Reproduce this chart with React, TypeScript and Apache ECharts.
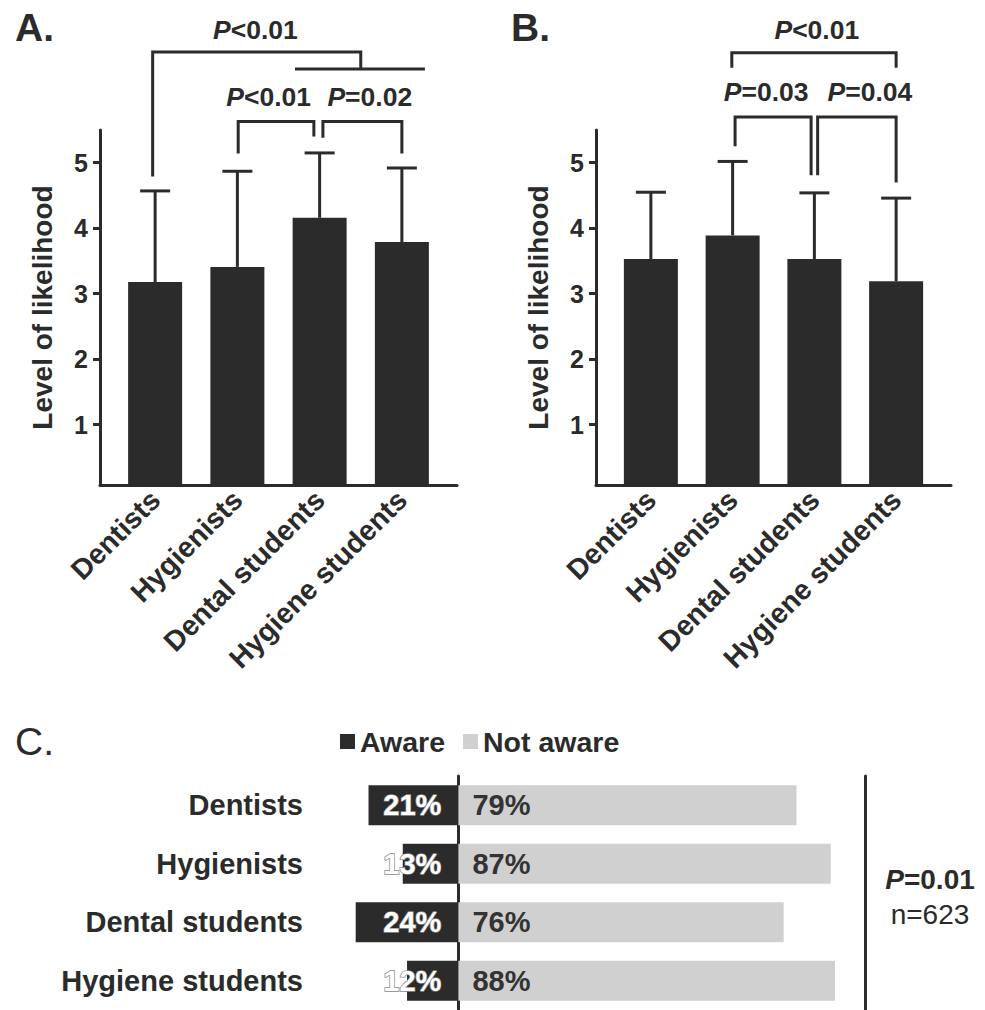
import React, { useEffect, useRef } from 'react';
import * as echarts from 'echarts';

const groups = ['Dentists', 'Hygienists', 'Dental students', 'Hygiene students'];
const meanA = [3.18, 3.41, 4.16, 3.79];
const sdA = [1.39, 1.46, 0.99, 1.13];
const meanB = [3.53, 3.89, 3.53, 3.19];
const sdB = [1.02, 1.13, 1.01, 1.27];
const yTicks = [1, 2, 3, 4, 5];
const aware = [21, 13, 24, 12];
const notAware = [79, 87, 76, 88];
const legendNames = ['Aware', 'Not aware'];

// significance brackets: [xFrom, xTo, yTop, yLeftEnd, yRightEnd] (category index, likelihood units)
const bracketsA = [
  [-0.03, 2.5, 6.69, 4.79, 6.43],
  [1.01, 1.93, 5.63, 5.14, 5.4],
  [2.04, 3.0, 5.63, 5.38, 5.14],
];
const crossbarsA = [[1.7, 3.28, 6.43]];
const pLabelsA: [number, number, string, string][] = [
  [1.22, 7.03, 'P', '<0.01'],
  [1.38, 6.0, 'P', '<0.01'],
  [2.61, 6.0, 'P', '=0.02'],
];
const bracketsB = [
  [0.99, 3.0, 6.68, 6.45, 6.45],
  [1.03, 1.96, 5.7, 5.25, 4.81],
  [2.04, 3.0, 5.7, 4.81, 4.7],
];
const crossbarsB: number[][] = [];
const pLabelsB: [number, number, string, string][] = [
  [2.03, 7.03, 'P', '<0.01'],
  [1.41, 6.08, 'P', '=0.03'],
  [2.68, 6.08, 'P', '=0.04'],
];

const FONT = '"Liberation Sans", Arial, Helvetica, sans-serif';
const DARK = '#2b2b2b';
const LIGHT = '#d0d0d0';
const LW = 3;

function xAt(api: any, f: number) {
  const a = api.coord([0, 1])[0];
  const b = api.coord([1, 1])[0];
  return a + f * (b - a);
}
function yAt(api: any, v: number) {
  return api.coord([0, v])[1];
}

function panelSeries(xi: number, mean: number[], sd: number[], brackets: number[][], crossbars: number[][], labels: [number, number, string, string][]) {
  const lineStyle = { stroke: DARK, lineWidth: LW, fill: null };
  return [
    {
      type: 'bar',
      name: 'mean' + xi,
      xAxisIndex: xi,
      yAxisIndex: xi,
      data: mean,
      barWidth: 54,
      itemStyle: { color: DARK },
      silent: true,
    },
    {
      type: 'custom',
      name: 'sd' + xi,
      xAxisIndex: xi,
      yAxisIndex: xi,
      z: 3,
      clip: false,
      data: mean.map((m, i) => [i, m, m + sd[i]]),
      renderItem: (params: any, api: any) => {
        const base = api.coord([api.value(0), api.value(1)]);
        const top = api.coord([api.value(0), api.value(2)]);
        return {
          type: 'group',
          children: [
            { type: 'line', shape: { x1: base[0], y1: base[1], x2: top[0], y2: top[1] }, style: { stroke: DARK, lineWidth: LW } },
            { type: 'line', shape: { x1: top[0] - 15, y1: top[1], x2: top[0] + 15, y2: top[1] }, style: { stroke: DARK, lineWidth: LW } },
          ],
        };
      },
    },
    {
      type: 'custom',
      name: 'br' + xi,
      xAxisIndex: xi,
      yAxisIndex: xi,
      z: 3,
      clip: false,
      silent: true,
      data: brackets.map((_, i) => [0, 1, i]),
      renderItem: (params: any, api: any) => {
        const b = brackets[params.dataIndex];
        const x1 = xAt(api, b[0]);
        const x2 = xAt(api, b[1]);
        const yt = yAt(api, b[2]);
        const children: any[] = [
          { type: 'polyline', shape: { points: [[x1, yAt(api, b[3])], [x1, yt], [x2, yt], [x2, yAt(api, b[4])]] }, style: lineStyle },
        ];
        if (params.dataIndex === 0) {
          crossbars.forEach((c) => {
            children.push({ type: 'line', shape: { x1: xAt(api, c[0]), y1: yAt(api, c[2]), x2: xAt(api, c[1]), y2: yAt(api, c[2]) }, style: { stroke: DARK, lineWidth: LW } });
          });
        }
        return { type: 'group', children };
      },
    },
    {
      type: 'custom',
      name: 'pl' + xi,
      xAxisIndex: xi,
      yAxisIndex: xi,
      z: 4,
      clip: false,
      silent: true,
      data: labels.map((_, i) => [0, 1, i]),
      renderItem: (params: any, api: any) => {
        const l = labels[params.dataIndex];
        return {
          type: 'text',
          x: xAt(api, l[0]),
          y: yAt(api, l[1]),
          style: {
            text: '{i|' + l[2] + '}{n|' + l[3] + '}',
            align: 'center',
            verticalAlign: 'middle',
            textAlign: 'center',
            textVerticalAlign: 'middle',
            fill: DARK,
            rich: {
              i: { fontFamily: FONT, fontSize: 26.5, fontWeight: 'bold', fontStyle: 'italic', fill: DARK, color: DARK },
              n: { fontFamily: FONT, fontSize: 26.5, fontWeight: 'bold', fill: DARK, color: DARK },
            },
          },
        };
      },
    },
  ];
}

function axesFor(gridAxes: number, gridBars: number) {
  const x = [
    {
      gridIndex: gridAxes,
      type: 'value',
      min: 0,
      max: 1,
      axisLine: { show: true, onZero: false, lineStyle: { color: DARK, width: LW } },
      axisTick: { show: false },
      axisLabel: { show: false },
      splitLine: { show: false },
    },
    {
      gridIndex: gridBars,
      type: 'category',
      data: groups,
      axisLine: { show: false },
      axisTick: { show: false },
      axisLabel: {
        interval: 0,
        rotate: 45,
        margin: 10,
        color: DARK,
        fontFamily: FONT,
        fontSize: 28.5,
        fontWeight: 'bold',
      },
    },
  ];
  const y = [
    {
      gridIndex: gridAxes,
      type: 'value',
      min: 0.08,
      max: 5.5,
      name: 'Level of likelihood',
      nameLocation: 'middle',
      nameGap: 44,
      nameTextStyle: { color: DARK, fontFamily: FONT, fontSize: 28, fontWeight: 'bold' },
      axisLine: { show: true, onZero: false, lineStyle: { color: DARK, width: LW } },
      axisTick: { show: true, length: 7, customValues: yTicks, lineStyle: { color: DARK, width: LW } },
      axisLabel: {
        customValues: yTicks,
        margin: 12,
        color: DARK,
        fontFamily: FONT,
        fontSize: 25,
        fontWeight: 'bold',
        formatter: (v: number) => (Number.isInteger(v) && v > 0 ? String(v) : ''),
      },
      splitLine: { show: false },
    },
    {
      gridIndex: gridBars,
      type: 'value',
      min: 0.08,
      max: 5.5,
      show: false,
      splitLine: { show: false },
    },
  ];
  return { x, y };
}

export default function App() {
  const ref = useRef<HTMLDivElement>(null);
  useEffect(() => {
    if (!ref.current) return;
    const chart = echarts.init(ref.current, undefined, { renderer: 'svg' });
    const a = axesFor(0, 1);
    const b = axesFor(2, 3);
    const option: any = {
      animation: false,
      backgroundColor: '#ffffff',
      textStyle: { fontFamily: FONT },
      grid: [
        { left: 100, top: 130, width: 357, height: 355 },
        { left: 114, top: 130, width: 329, height: 355 },
        { left: 596, top: 130, width: 355, height: 355 },
        { left: 610, top: 130, width: 327, height: 355 },
        { left: 330, top: 776, width: 535, height: 236 },
      ],
      xAxis: [
        ...a.x,
        ...b.x,
        { gridIndex: 4, type: 'value', min: -30, max: 95, show: false, splitLine: { show: false } },
      ],
      yAxis: [
        ...a.y,
        ...b.y,
        {
          gridIndex: 4,
          type: 'category',
          data: groups,
          inverse: true,
          axisLine: { show: true, lineStyle: { color: DARK, width: LW } },
          axisTick: { show: false },
          axisLabel: { margin: 27, color: DARK, fontFamily: FONT, fontSize: 29, fontWeight: 'bold' },
        },
        {
          gridIndex: 4,
          type: 'category',
          data: groups,
          inverse: true,
          position: 'right',
          axisLine: { show: true, lineStyle: { color: DARK, width: LW } },
          axisTick: { show: false },
          axisLabel: { show: false },
        },
      ],
      legend: {
        data: legendNames,
        left: 335,
        top: 722,
        icon: 'rect',
        itemWidth: 15,
        itemHeight: 15,
        itemGap: 18,
        textStyle: { color: DARK, fontFamily: FONT, fontSize: 28.5, fontWeight: 'bold' },
      },
      series: [
        ...panelSeries(1, meanA, sdA, bracketsA, crossbarsA, pLabelsA),
        ...panelSeries(3, meanB, sdB, bracketsB, crossbarsB, pLabelsB),
        {
          type: 'bar',
          name: legendNames[0],
          xAxisIndex: 4,
          yAxisIndex: 4,
          stack: 'aw',
          barWidth: 40,
          data: aware.map((v) => -v),
          itemStyle: { color: DARK },
          label: {
            show: true,
            position: 'insideRight',
            distance: 17,
            formatter: (p: any) => Math.abs(p.value) + '%',
            color: '#ffffff',
            fontFamily: FONT,
            fontSize: 29,
            fontWeight: 'bold',
            textBorderColor: '#8a8a8a',
            textBorderWidth: 1.5,
          },
        },
        {
          type: 'bar',
          name: legendNames[1],
          xAxisIndex: 4,
          yAxisIndex: 4,
          stack: 'aw',
          barWidth: 40,
          data: notAware,
          itemStyle: { color: LIGHT },
          label: {
            show: true,
            position: 'insideLeft',
            distance: 14,
            formatter: (p: any) => p.value + '%',
            color: '#333333',
            fontFamily: FONT,
            fontSize: 29,
            fontWeight: 'bold',
          },
        },
      ],
      graphic: [
        { type: 'text', left: 15, top: 8, style: { text: 'A.', fill: DARK, font: 'bold 39px ' + FONT } },
        { type: 'text', left: 511, top: 8, style: { text: 'B.', fill: DARK, font: 'bold 39px ' + FONT } },
        { type: 'text', left: 15, top: 722, style: { text: 'C.', fill: DARK, font: '39px ' + FONT } },
        {
          type: 'text',
          x: 930,
          y: 879,
          style: {
            text: '{i|P}{n|=0.01}',
            align: 'center',
            verticalAlign: 'middle',
            rich: {
              i: { fontFamily: FONT, fontSize: 28, fontWeight: 'bold', fontStyle: 'italic', fill: DARK },
              n: { fontFamily: FONT, fontSize: 28, fontWeight: 'bold', fill: DARK },
            },
          },
        },
        {
          type: 'text',
          x: 930,
          y: 914,
          style: { text: 'n=623', align: 'center', verticalAlign: 'middle', fill: DARK, font: '28px ' + FONT },
        },
      ],
    };
    chart.setOption(option);
    return () => chart.dispose();
  }, []);
  return <div ref={ref} style={{ position: 'absolute', left: 0, top: 0, width: 985, height: 1010 }} />;
}
